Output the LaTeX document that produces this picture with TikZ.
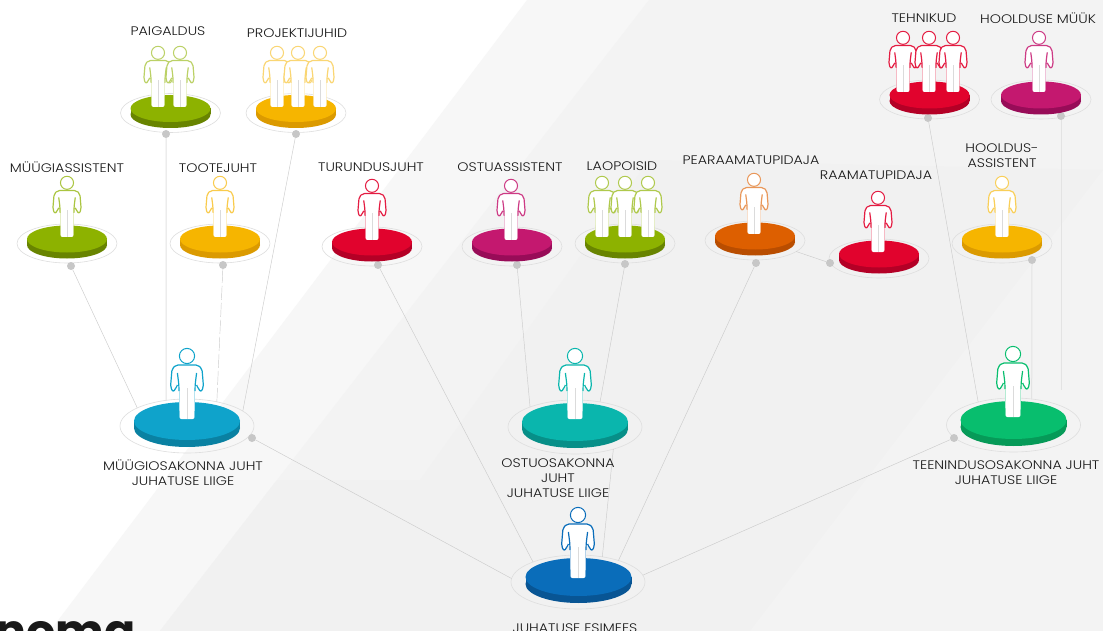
\documentclass[tikz,border=0pt]{standalone}
\usepackage{fontspec}
\setmainfont{Poppins Light}[FakeStretch=1.15]
\newfontfamily\logofont{Poppins}
\usetikzlibrary{shapes.geometric}
\definecolor{lgreen}{HTML}{8DB200}\definecolor{lgreenD}{HTML}{688400}
\definecolor{lyellow}{HTML}{F6B500}\definecolor{lyellowD}{HTML}{DB9A00}
\definecolor{lred}{HTML}{E1032D}\definecolor{lredD}{HTML}{B40026}
\definecolor{lmag}{HTML}{C4186F}\definecolor{lmagD}{HTML}{980C58}
\definecolor{lorange}{HTML}{DD5F00}\definecolor{lorangeD}{HTML}{B94D00}
\definecolor{lcyan}{HTML}{0FA3CB}\definecolor{lcyanD}{HTML}{0A81A2}
\definecolor{lteal}{HTML}{0AB6AD}\definecolor{ltealD}{HTML}{078F88}
\definecolor{lblue}{HTML}{0A6DBA}\definecolor{lblueD}{HTML}{085594}
\definecolor{lemer}{HTML}{08BE6E}\definecolor{lemerD}{HTML}{069A58}
\definecolor{bgA}{HTML}{F7F7F7}\definecolor{bgC}{HTML}{F1F1F1}\definecolor{bgD}{HTML}{F3F3F3}
\tikzset{
  halosmall/.style={ellipse,draw=black!13,line width=.6pt,inner sep=0pt,outer sep=0pt,minimum width=100pt,minimum height=39pt},
  halobig/.style={ellipse,draw=black!13,line width=.6pt,inner sep=0pt,outer sep=0pt,minimum width=134pt,minimum height=54pt},
  dotnode/.style={circle,fill=black!22,inner sep=0pt,minimum size=8pt,outer sep=0pt},
  link/.style={draw=black!20,line width=.45pt},
  linkwide/.style={draw=black!11,line width=1pt},
  lbl/.style={align=center,inner sep=0pt,text=black!90,font=\fontsize{12.4}{15}\selectfont},
}
\newcommand{\discsmall}[4]{%
  \fill[#4] (#1,#2+6) ellipse [x radius=40pt,y radius=13.5pt];
  \fill[#4] (#1-40,#2) rectangle (#1+40,#2+6);
  \fill[#3] (#1,#2) ellipse [x radius=40pt,y radius=13.5pt];}
\newcommand{\discbig}[4]{%
  \fill[#4] (#1,#2+7) ellipse [x radius=53pt,y radius=19pt];
  \fill[#4] (#1-53,#2) rectangle (#1+53,#2+7);
  \fill[#3] (#1,#2) ellipse [x radius=53pt,y radius=19pt];}
\newcommand{\person}[4]{%
  \begin{scope}[shift={(#1,#2)},scale=#3]
    \fill[white,rounded corners=2pt]
      (-11,-54) -- (11,-54) -- (15,-50) -- (16.5,-32) -- (14,-27) -- (11.5,-30) -- (8.2,-33)
      -- (7.6,0) -- (-7.6,0) -- (-8.2,-33)
      -- (-11.5,-30) -- (-14,-27) -- (-16.5,-32) -- (-15,-50) -- cycle;
    \draw[#4,line width=1.2pt,rounded corners=2pt,line join=round]
      (8,-28) -- (8.2,-35) -- (9.6,-46)
      (9.6,-34) -- (11.5,-30) -- (14,-27) -- (16.5,-32) -- (15,-50) -- (11,-54) -- (-11,-54) -- (-15,-50)
      -- (-16.5,-32) -- (-14,-27) -- (-11.5,-30) -- (-9.6,-34)
      (-9.6,-46) -- (-8.2,-35) -- (-8,-28);
    \draw[#4,opacity=.3,line width=.5pt] (7.6,-28) -- (7.6,-1) (-7.6,-28) -- (-7.6,-1);
    \draw[black!14,line width=.6pt] (0,-31) -- (0,0);
    \draw[#4,fill=white,line width=1pt] (0,-63) circle [radius=7.6pt];
  \end{scope}}
\begin{document}
\begin{tikzpicture}[x=1pt,y=-1pt]
\useasboundingbox (0,0) rectangle (1103,631);
\clip (0,0) rectangle (1103,631);
% background
\fill[white] (0,0) rectangle (1103,631);
\fill[bgA] (527,0) -- (1103,0) -- (1103,631) -- (50,631) -- cycle;
\fill[bgD] (649,0) -- (1103,0) -- (1103,631) -- (160,631) -- cycle;
\fill[bgC] (420,480) -- (649,160) -- (1103,170) -- (750,631) -- (160,631) -- (277,480) -- cycle;
\fill[bgD] (1103,170) -- (1103,631) -- (750,631) -- cycle;
% halos
\node[halosmall] (hPaig) at (170.5,113) {};
\node[halosmall] (hProj) at (296,113) {};
\node[halosmall] (hMass) at (67,243.5) {};
\node[halosmall] (hToot) at (220,243.5) {};
\node[halosmall] (hTuru) at (372,246.5) {};
\node[halosmall] (hOass) at (512,246.5) {};
\node[halosmall] (hLaop) at (625,243.5) {};
\node[halosmall] (hPear) at (755,240.5) {};
\node[halosmall] (hRaam) at (879,258.5) {};
\node[halosmall] (hHass) at (1002,243.5) {};
\node[halosmall] (hTehn) at (929.5,99.5) {};
\node[halosmall] (hHmyy) at (1041,99.5) {};
\node[halobig] (hMuug) at (187,426) {};
\node[halobig] (hOstu) at (575,427) {};
\node[halobig] (hTeen) at (1013.5,425) {};
\node[halobig] (hEsim) at (578,582) {};
% dots
\node[dotnode] (dPaig) at (166,134) {};
\node[dotnode] (dProj) at (296,134) {};
\node[dotnode] (dMass) at (71,266) {};
\node[dotnode] (dToot) at (223,265) {};
\node[dotnode] (dTuru) at (378,265) {};
\node[dotnode] (dOass) at (517,265) {};
\node[dotnode] (dLaop) at (625,264) {};
\node[dotnode] (dPear) at (756,263) {};
\node[dotnode] (dRaam) at (830,263) {};
\node[dotnode] (dHass) at (1032,260) {};
\node[dotnode] (dTehn) at (928,118) {};
\node[dotnode] (dHmyy) at (1061,116) {};
\node[dotnode] (dMuug) at (252,438) {};
\node[dotnode] (dTeen) at (954,438) {};
\coordinate (endHmyy) at (1061,390);
% connectors
\draw[link] (dMass) -- (hMuug.160);
\draw[linkwide] (dPaig) -- (hMuug.129);
\draw[link,dash pattern=on 14pt off 3pt] (dToot) -- (hMuug.39);
\draw[link] (dProj) -- (hMuug.15);
\draw[link] (dMuug) -- (hEsim.177);
\draw[link] (dTuru) -- (hEsim.156);
\draw[link] (dOass) -- (hOstu.156);
\draw[link] (dLaop) -- (hOstu.45);
\draw[link] (hOstu.-30) -- (hEsim.46);
\draw[link] (dPear) -- (hEsim.28);
\draw[link] (hPear.-15) -- (dRaam);
\draw[link] (dTehn) -- (hTeen.147);
\draw[linkwide] (dHass) -- (hTeen.55);
\draw[linkwide] (dHmyy) -- (endHmyy);
\draw[link] (dTeen) -- (hEsim.6);
% discs
\discsmall{170.5}{108.5}{lgreen}{lgreenD}
\discsmall{296}{108.5}{lyellow}{lyellowD}
\discsmall{67}{239}{lgreen}{lgreenD}
\discsmall{220}{239}{lyellow}{lyellowD}
\discsmall{372}{242}{lred}{lredD}
\discsmall{512}{242}{lmag}{lmagD}
\discsmall{625}{239}{lgreen}{lgreenD}
\discsmall{755}{236}{lorange}{lorangeD}
\discsmall{879}{254}{lred}{lredD}
\discsmall{1002}{239}{lyellow}{lyellowD}
\discsmall{929.5}{95}{lred}{lredD}
\discsmall{1041}{95}{lmag}{lmagD}
\discbig{187}{421}{lcyan}{lcyanD}
\discbig{575}{422}{lteal}{ltealD}
\discbig{1013.5}{420}{lemer}{lemerD}
\discbig{578.5}{577}{lblue}{lblueD}
% people
\person{158}{107}{.86}{lgreen!60}
\person{180}{107}{.86}{lgreen!60}
\person{277}{107}{.86}{lyellow!55}
\person{298}{107}{.86}{lyellow!55}
\person{320}{107}{.86}{lyellow!55}
\person{67}{237}{.86}{lgreen!75}
\person{220}{237}{.86}{lyellow!70}
\person{372}{240}{.86}{lred!90}
\person{511}{240}{.86}{lmag!85}
\person{602}{237}{.86}{lgreen!70}
\person{625}{237}{.86}{lgreen!70}
\person{648}{237}{.86}{lgreen!70}
\person{754}{234}{.86}{lorange!65}
\person{878}{252}{.86}{lred!90}
\person{1002}{237}{.86}{lyellow!65}
\person{903}{92}{.86}{lred!90}
\person{929}{92}{.86}{lred!90}
\person{953}{92}{.86}{lred!90}
\person{1039}{92}{.86}{lmag!85}
\person{187}{419}{1}{lcyan}
\person{575}{419}{1}{lteal}
\person{1013}{417}{1}{lemer}
\person{578}{578}{1}{lblue}
% labels
\node[lbl] (tPaig) at (168,31) {PAIGALDUS};
\node[lbl] (tProj) at (297,33) {PROJEKTIJUHID};
\node[lbl] (tMass) at (67,167) {MÜÜGIASSISTENT};
\node[lbl] (tToot) at (218,168) {TOOTEJUHT};
\node[lbl] (tTuru) at (371,167) {TURUNDUSJUHT};
\node[lbl] (tOass) at (510,167) {OSTUASSISTENT};
\node[lbl] (tLaop) at (622,166) {LAOPOISID};
\node[lbl] (tPear) at (751,160) {PEARAAMATUPIDAJA};
\node[lbl] (tRaam) at (876,175) {RAAMATUPIDAJA};
\node[lbl] (tHass) at (1002,155.5) {HOOLDUS-\\ASSISTENT};
\node[lbl] (tTehn) at (924,18) {TEHNIKUD};
\node[lbl] (tHmyy) at (1038,18) {HOOLDUSE MÜÜK};
\node[lbl] (tMuug) at (183,472.5) {MÜÜGIOSAKONNA JUHT\\JUHATUSE LIIGE};
\node[lbl] (tOstu) at (558,478) {OSTUOSAKONNA\\JUHT\\JUHATUSE LIIGE};
\node[lbl] (tTeen) at (1006,472.5) {TEENINDUSOSAKONNA JUHT\\JUHATUSE LIIGE};
\node[lbl] (tEsim) at (575,628) {JUHATUSE ESIMEES};
\node[anchor=base west,inner sep=0pt,text=black!90,font=\logofont\bfseries\fontsize{46}{46}\selectfont] (tLogo) at (-5,647) {noma};
\end{tikzpicture}
\end{document}
